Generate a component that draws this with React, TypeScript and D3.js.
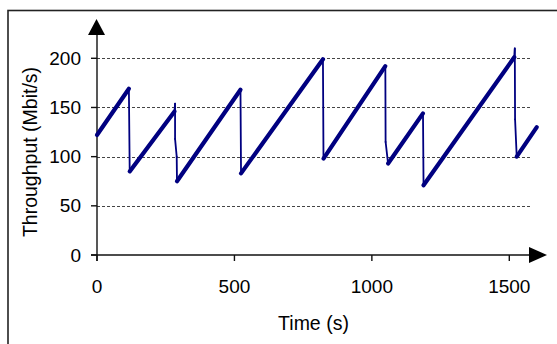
import React from 'react';
import * as d3 from 'd3';

// throughput trace (time in s, rate in Mbit/s)
const times = [0, 116, 119, 282, 284, 284, 290, 291, 522, 524, 822, 824, 1049, 1050, 1059, 1186, 1188, 1518, 1520, 1521, 1527, 1600];
const rates = [122, 169, 85, 146, 154, 118, 100, 75, 168, 83, 199, 98, 192, 115, 93, 144, 71, 201, 210, 138, 100, 130];

const xTicks = [0, 500, 1000, 1500];
const yTicks = [0, 50, 100, 150, 200];
const gridValues = [50, 100, 150, 200];

const W = 557;
const H = 344;
const FONT = "'Liberation Sans', Arial, sans-serif";
const NAVY = '#000080';

export default function App() {
    const x = d3.scaleLinear().domain([0, 1500]).range([97, 509.3]);
    const y = d3.scaleLinear().domain([0, 200]).range([255, 58.3]);

    const x0 = x(0);
    const y0 = y(0);
    const gridRight = 532;
    const yTop = 35;
    const xEnd = 529;

    const pts = times.map((t, i) => [x(t), y(rates[i])] as [number, number]);
    const line = d3.line();

    // the slow climbs show as a thick noisy band, the drops as a thin line
    const segments = pts.slice(1).map((p, i) => {
        const thick = times[i + 1] - times[i] > 10 && rates[i + 1] > rates[i];
        return {d: line([pts[i], p]) as string, thick};
    });

    return (
        <svg width={W} height={H} style={{position: 'absolute', left: 0, top: 0, background: '#fff'}}>
            <rect x={8} y={10.5} width={600} height={400} fill="none" stroke="#222" strokeWidth={1.6}/>

            {gridValues.map(v => (
                <line key={v} x1={x0} x2={gridRight} y1={Math.round(y(v)) + 0.5} y2={Math.round(y(v)) + 0.5}
                      stroke="#444" strokeWidth={1} strokeDasharray="3,2"/>
            ))}

            {/* axes */}
            <line x1={x0} x2={x0} y1={yTop} y2={y0 + 6} stroke="#111" strokeWidth={1.4}/>
            <line x1={x0 - 6} x2={xEnd} y1={y0} y2={y0} stroke="#111" strokeWidth={1.4}/>
            <path d={`M${x0 - 9},${yTop} L${x0 + 8},${yTop} L${x0 - 0.5},19 Z`} fill="#000"/>
            <path d={`M${xEnd},${y0 - 8} L${xEnd},${y0 + 8} L547,${y0} Z`} fill="#000"/>

            {yTicks.map(v => (
                <g key={v}>
                    <line x1={x0 - 6} x2={x0} y1={y(v)} y2={y(v)} stroke="#111" strokeWidth={1.4}/>
                    <text x={81} y={y(v)} dy="0.35em" textAnchor="end" fontFamily={FONT} fontSize={19}
                          fill="#000">{v}</text>
                </g>
            ))}
            {xTicks.map(v => (
                <g key={v}>
                    <line x1={x(v)} x2={x(v)} y1={y0} y2={y0 + 6} stroke="#111" strokeWidth={1.4}/>
                    <text x={x(v)} y={292.5} textAnchor="middle" fontFamily={FONT} fontSize={19}
                          fill="#000">{v}</text>
                </g>
            ))}

            {segments.map((s, i) => (
                <path key={i} d={s.d} fill="none" stroke={NAVY} strokeWidth={s.thick ? 4.2 : 1.8}
                      strokeLinecap="round" strokeLinejoin="round"/>
            ))}

            <text x={313.5} y={330} textAnchor="middle" fontFamily={FONT} fontSize={19.5} fill="#000">Time (s)</text>
            <text transform="translate(37,152) rotate(-90)" textAnchor="middle" fontFamily={FONT} fontSize={19.5}
                  fill="#000">Throughput (Mbit/s)</text>
        </svg>
    );
}
